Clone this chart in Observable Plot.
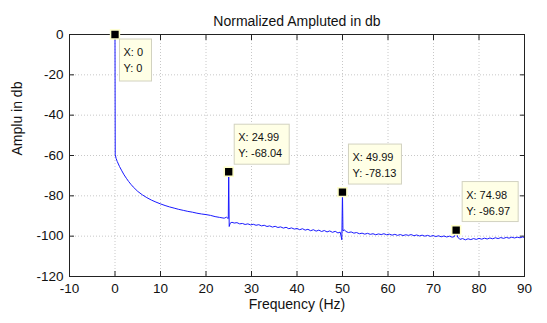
<!DOCTYPE html>
<html><head><meta charset="utf-8">
<script src="https://cdn.jsdelivr.net/npm/d3@7"></script>
<script src="https://cdn.jsdelivr.net/npm/@observablehq/plot@0.6"></script>
<style>body{margin:0;background:#fff} svg{display:block}</style>
</head><body><div id="chart"></div>
<script>
const title = "Normalized Ampluted in db";
const xLabel = "Frequency (Hz)";
const yLabel = "Amplu in db";
const xTicks = [-10, 0, 10, 20, 30, 40, 50, 60, 70, 80, 90];
const yTicks = [-120, -100, -80, -60, -40, -20, 0];

const freq = [
  0, 0.05, 0.25, 0.5, 1, 1.5, 2, 2.5, 3, 3.5, 4, 5, 6, 7, 8, 9, 10, 11, 12, 13, 14, 15, 16, 17, 18, 19, 20, 21, 22, 23, 24, 24.5, 24.9,
  24.99, 25.1, 25.3,
  25.7, 26.2, 26.8, 27.4, 28, 28.6, 29.2, 29.8, 30.4, 31, 31.6, 32.2, 32.8, 33.4, 34, 34.6, 35.2, 35.8, 36.4, 37, 37.6, 38.2, 38.8, 39.4, 40,
  40.6, 41.2, 41.8, 42.4, 43, 43.6, 44.2, 44.8, 45.4, 46, 46.6, 47.2, 47.8, 48.4, 49, 49.5, 49.85,
  49.99, 50.1, 50.4,
  50.7, 51.3, 51.9, 52.5, 53.1, 53.7, 54.3, 54.9, 55.5, 56.1, 56.7, 57.3, 57.9, 58.5, 59.1, 59.7, 60.3, 60.9, 61.5, 62.1, 62.7, 63.3, 63.9,
  64.5, 65.1, 65.7, 66.3, 66.9, 67.5, 68.1, 68.7, 69.3, 69.9, 70.5, 71.1, 71.7, 72.3, 72.9, 73.5, 74.1, 74.6,
  74.98, 75.3,
  75.8, 76.4, 77, 77.6, 78.2, 78.8, 79.4, 80, 80.6, 81.2, 81.8, 82.4, 83, 83.6, 84.2, 84.8, 85.4, 86, 86.6, 87.2, 87.8, 88.4, 89, 89.6, 90
];
const amp = [
  0, -59.5, -61.5, -63, -65.5, -67.6, -69.6, -71.3, -72.9, -74.3, -75.6, -77.8, -79.5, -80.9, -82.1, -83.1, -84, -84.8, -85.5, -86.1, -86.7, -87.2, -87.7, -88.1, -88.6, -89, -89.3, -89.7, -90.3, -90.7, -91.1, -90.6, -91.3,
  -68.04, -95.2, -93.6,
  -93.1, -93.5, -93.3, -93.9, -93.7, -94.2, -93.9, -94.4, -94.1, -94.6, -94.3, -94.9, -94.6, -95.2, -94.9, -95.5, -95.1, -95.7, -95.4, -96.0, -95.6, -96.3, -95.9, -96.5, -96.2,
  -96.8, -96.3, -97.0, -96.6, -97.3, -96.8, -97.5, -97.0, -97.7, -97.2, -97.9, -97.4, -98.1, -97.6, -98.4, -98.0, -101.8,
  -78.13, -97.5, -96.8,
  -97.6, -98.2, -97.9, -98.5, -98.2, -98.8, -98.5, -99.0, -98.6, -99.1, -98.8, -99.3, -98.9, -99.2, -98.8, -99.3, -99.0, -99.5, -99.1, -99.6, -99.2, -99.7, -99.3,
  -99.6, -99.2, -99.8, -99.4, -99.9, -99.5, -100.0, -99.6, -100.1, -99.7, -100.2, -99.8, -100.3, -99.9, -100.4, -100.0, -100.5, -100.2,
  -96.97, -100.4,
  -101.6, -101.2, -101.8, -101.3, -101.7, -101.2, -101.6, -101.1, -101.5, -101.0, -101.4, -100.9, -101.3, -100.8, -101.2, -100.7, -101.1, -100.6, -101.0, -100.5, -100.9, -100.5, -100.8, -100.4, -100.7
];

const peakFreq = [0, 24.99, 49.99, 74.98];
const peakAmp = [0, -68.04, -78.13, -96.97];
const peakXText = ["0", "24.99", "49.99", "74.98"];
const peakYText = ["0", "-68.04", "-78.13", "-96.97"];

const spectrum = freq.map((f, i) => ({f, a: amp[i]}));
const peaks = peakFreq.map((f, i) => ({f, a: peakAmp[i], xt: peakXText[i], yt: peakYText[i]}));

const fmt = d => String(d);
const font = "Liberation Sans, Arial, sans-serif";

const chart = Plot.plot({
  width: 547,
  height: 323,
  marginTop: 34,
  marginBottom: 47,
  marginLeft: 69,
  marginRight: 23,
  style: {fontFamily: font, fontSize: "13.5px", color: "#111", background: "#fff"},
  x: {domain: [-10, 90]},
  y: {domain: [-120, 0]},
  marks: [
    Plot.ruleX(xTicks, {stroke: "#c8c8c8", strokeDasharray: "1,2"}),
    Plot.ruleY(yTicks, {stroke: "#c8c8c8", strokeDasharray: "1,2"}),
    Plot.axisX({anchor: "bottom", ticks: xTicks, tickSize: 0, tickPadding: 7, tickFormat: fmt, label: null}),
    Plot.axisY({anchor: "left", ticks: yTicks, tickSize: 0, tickPadding: 6, tickFormat: fmt, label: null}),
    Plot.axisX({anchor: "bottom", ticks: xTicks, tickSize: -5, tickFormat: () => "", label: null, stroke: "#222"}),
    Plot.axisX({anchor: "top", ticks: xTicks, tickSize: -5, tickFormat: () => "", label: null, stroke: "#222"}),
    Plot.axisY({anchor: "left", ticks: yTicks, tickSize: -5, tickFormat: () => "", label: null, stroke: "#222"}),
    Plot.axisY({anchor: "right", ticks: yTicks, tickSize: -5, tickFormat: () => "", label: null, stroke: "#222"}),
    Plot.line(spectrum, {x: "f", y: "a", stroke: "#1a1aff", strokeWidth: 1}),
    Plot.frame({stroke: "#222", strokeWidth: 1}),
    Plot.dot(peaks, {x: "f", y: "a", symbol: "square", r: 5, fill: "#000", stroke: "#ffffc8", strokeWidth: 1.5}),
    Plot.text([title], {frameAnchor: "top", dy: -18, fontSize: 14, fill: "#111"}),
    Plot.text([xLabel], {frameAnchor: "bottom", dy: 32, fontSize: 14, fill: "#111"}),
    Plot.text([yLabel], {frameAnchor: "left", dx: -52, rotate: -90, fontSize: 14, fill: "#111"})
  ]
});

document.getElementById("chart").appendChild(chart);

// Data tips anchored to the peaks through the plot's scales
const sx = chart.scale("x"), sy = chart.scale("y");
const tipLayout = [
  {dx: 5, dy: 5, w: 32, h: 42},
  {dx: 6, dy: -47, w: 55, h: 40},
  {dx: 6.5, dy: -47.5, w: 53, h: 40},
  {dx: 6.5, dy: -48, w: 56, h: 40}
];
const svg = d3.select(chart);
peaks.forEach((p, i) => {
  const L = tipLayout[i];
  const px = sx.apply(p.f), py = sy.apply(p.a);
  const g = svg.append("g").attr("transform", `translate(${px + L.dx},${py + L.dy})`)
    .attr("text-anchor", "start");
  g.append("rect").attr("width", L.w).attr("height", L.h)
    .attr("fill", "#ffffe6").attr("stroke", "#d2d2c0").attr("stroke-width", 1);
  g.append("text").attr("x", 4).attr("y", 17).attr("text-anchor", "start").attr("font-size", 11).attr("font-family", font).attr("fill", "#111").text("X: " + p.xt);
  g.append("text").attr("x", 4).attr("y", 33).attr("text-anchor", "start").attr("font-size", 11).attr("font-family", font).attr("fill", "#111").text("Y: " + p.yt);
});
</script>
</body></html>
